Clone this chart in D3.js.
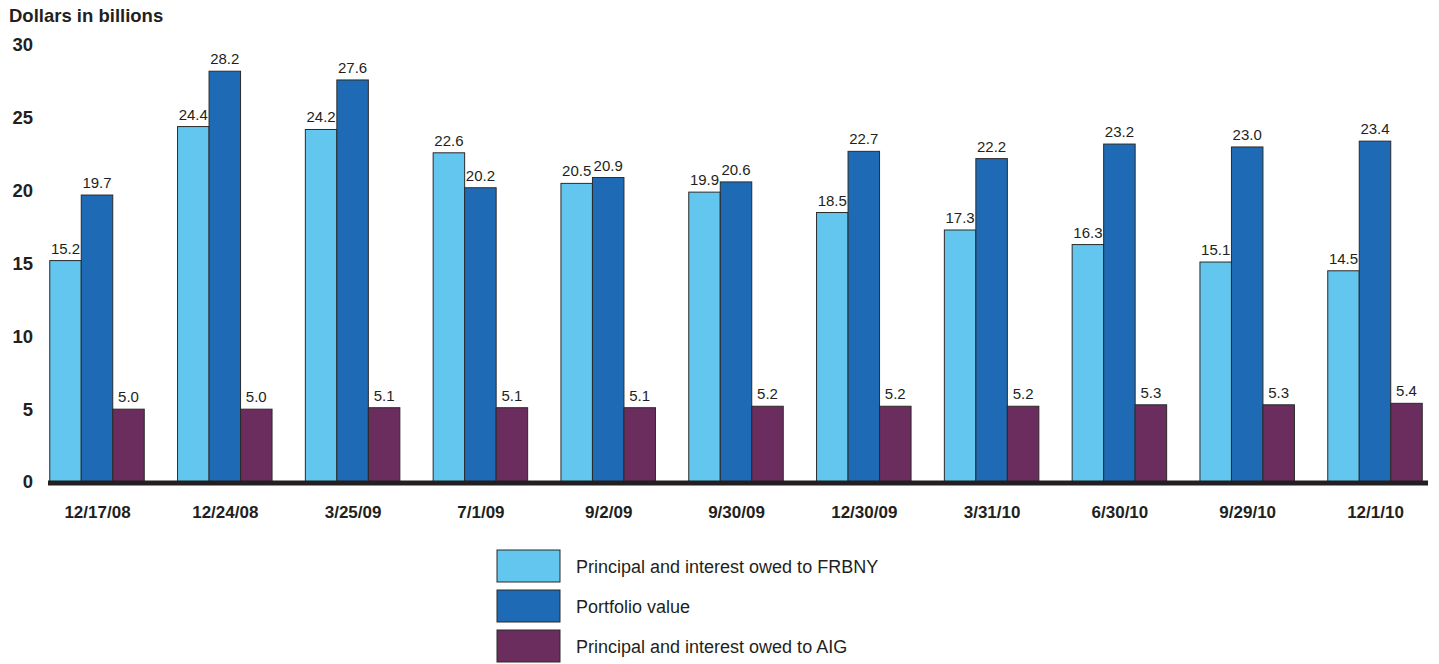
<!DOCTYPE html>
<html><head><meta charset="utf-8">
<script src="https://cdn.jsdelivr.net/npm/d3@7"></script>
<style>body{margin:0;background:#fff;}svg{display:block;font-family:"Liberation Sans",Arial,Helvetica,sans-serif;}</style>
</head><body><svg id="c" width="1439" height="664"></svg>
<script>
const categories = ["12/17/08","12/24/08","3/25/09","7/1/09","9/2/09","9/30/09","12/30/09","3/31/10","6/30/10","9/29/10","12/1/10"];
const owedFRBNY = [15.2,24.4,24.2,22.6,20.5,19.9,18.5,17.3,16.3,15.1,14.5];
const portfolioValue = [19.7,28.2,27.6,20.2,20.9,20.6,22.7,22.2,23.2,23.0,23.4];
const owedAIG = [5.0,5.0,5.1,5.1,5.1,5.2,5.2,5.2,5.3,5.3,5.4];
const seriesNames = ["Principal and interest owed to FRBNY","Portfolio value","Principal and interest owed to AIG"];
const yTicks = [0,5,10,15,20,25,30];
const colors = ["#62c6ee","#1f6ab4","#6b2c5e"];

const svg = d3.select("#c");
const x = d3.scalePoint().domain(categories).range([97, 1375]);
const y = d3.scaleLinear().domain([0,30]).range([482, 45]);
const bw = 31.5;
const series = [owedFRBNY, portfolioValue, owedAIG];

svg.append("text").attr("x",9).attr("y",22).attr("font-size",18.5).attr("font-weight","bold").attr("fill","#231f20").text("Dollars in billions");

const yAxis = d3.axisLeft(y).tickValues(yTicks).tickSize(0).tickPadding(0);
const yg = svg.append("g").attr("transform","translate(33,0)").call(yAxis);
yg.select(".domain").remove();
yg.selectAll("text").attr("font-size",18.5).attr("font-weight","bold").attr("fill","#231f20").attr("font-family","Liberation Sans,Arial,sans-serif");

series.forEach((vals, si) => {
  const g = svg.append("g");
  categories.forEach((c, i) => {
    const cx = x(c) + (si - 1) * bw - bw/2;
    g.append("rect").attr("x", cx).attr("y", y(vals[i])).attr("width", bw).attr("height", y(0) - y(vals[i]))
      .attr("fill", colors[si]).attr("stroke","#2a2a2a").attr("stroke-width",1);
    g.append("text").attr("x", cx + bw/2).attr("y", y(vals[i]) - 7).attr("text-anchor","middle")
      .attr("font-size",15).attr("fill","#231f20").text(vals[i].toFixed(1));
  });
});

const xAxis = d3.axisBottom(x).tickSize(0).tickPadding(0);
const xg = svg.append("g").attr("transform","translate(0,482)").call(xAxis);
xg.select(".domain").remove();
xg.selectAll("text").attr("dy",0).attr("y",36).attr("font-size",17).attr("font-weight","bold").attr("fill","#231f20").attr("font-family","Liberation Sans,Arial,sans-serif");

svg.append("line").attr("x1",48).attr("x2",1428).attr("y1",y(0)+1).attr("y2",y(0)+1).attr("stroke","#231f20").attr("stroke-width",5);

const lg = svg.append("g");
seriesNames.forEach((n, i) => {
  const ly = 550 + i * 40;
  lg.append("rect").attr("x",497).attr("y",ly).attr("width",63).attr("height",32).attr("fill",colors[i]).attr("stroke","#2a2a2a").attr("stroke-width",1);
  lg.append("text").attr("x",576).attr("y",ly + 23).attr("font-size",18).attr("fill","#231f20").text(n);
});
</script></body></html>
